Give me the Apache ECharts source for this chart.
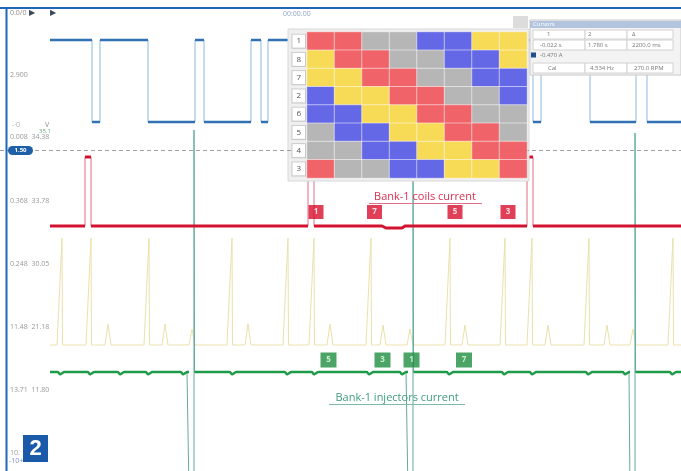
<!DOCTYPE html>
<html><head><meta charset="utf-8">
<script src="https://cdn.jsdelivr.net/npm/echarts@6/dist/echarts.min.js"></script>
<style>html,body{margin:0;padding:0;background:#fff}#c{width:681px;height:471px}</style>
</head><body><div id="c"></div>
<script>
// ---------- DATA (time in ms) ----------
// Channel A: camshaft sensor, volts
const camSignal = [[5.0,5],[9.2,5],[9.2,0],[10.0,0],[10.0,5],[14.8,5],[14.8,0],[19.5,0],[19.5,5],[20.4,5],[20.4,0],[25.1,0],[25.1,5],[26.1,5],[26.1,0],[26.8,0],[26.8,5],[36.3,5],[36.3,0],[41.8,0],[41.8,5],[42.7,5],[42.7,0],[47.3,0],[47.3,5],[53.3,5],[53.3,0],[54.1,0],[54.1,5],[59.0,5],[59.0,0],[63.6,0],[63.6,5],[64.7,5],[64.7,0],[68.1,0]];
// Channel B: bank-1 coils current, amps
const coilCurrent = [[5.0,0],[8.5,0],[8.5,6.9],[9.1,6.9],[9.1,0],[30.8,0],[30.8,6.9],[31.4,6.9],[31.4,0],[38.2,0],[38.6,-0.2],[40.2,-0.2],[40.5,0],[52.7,0],[52.7,6.9],[53.3,6.9],[53.3,0],[68.1,0]];
// Channel C: ignition spikes, kV
const ignTallT  = [6.2, 9.1, 14.9, 23.2, 28.8, 31.4, 37.1, 45.0, 50.5, 53.2, 58.9, 67.3];
const ignTallKV = [10.7,10.7,10.7,10.7,10.7,10.7,10.7,10.7,10.7,10.7,10.7,10.7];
const ignSmallT  = [10.8, 16.5, 19.2, 24.8, 33.0, 38.3, 41.0, 46.5, 54.8, 60.7, 63.3];
const ignSmallKV = [2.1, 2.1, 1.6, 2.1, 2.1, 2.0, 1.6, 2.0, 2.0, 2.0, 1.6];
// Channel D: bank-1 injectors current
const injDips = [6.0, 9.0, 12.0, 14.8, 18.3, 23.2, 28.7, 31.4, 36.9, 40.2, 44.9, 50.4, 53.2, 58.8, 62.5, 67.2];
const injOffT = [18.9, 40.8, 63.0];
const injReturnT = [19.4, 41.3, 63.5];
const injPeak = [24.2, 24.2, 23.9];
// markers
const coilMarkT = [31.6, 37.45, 45.5, 50.8];
const coilMarkLabel = ['1','7','5','3'];
const injMarkT = [32.85, 38.25, 41.15, 46.4];
const injMarkLabel = ['5','3','1','7'];
// firing-order table
const rowLabels = ['1','8','7','2','6','5','4','3'];
const firingPattern = ['RRGGBBYY','YRRGGBBY','YYRRGGBB','BYYRRGGB','BBYYRRGG','GBBYYRRG','GGBBYYRR','RGGBBYYR'];
const strokeColors = {R:'#f05a60', G:'#b3b3b3', B:'#5b5fe6', Y:'#f8d94c'};
// scale labels at left
const scaleLabels = [['2.900',75],['0.008  34.38',137],['0.368  33.78',201],['0.248  30.05',264],['11.48  21.18',327],['13.71  11.80',390],['10.',453]];

// ---------- helpers ----------
const W = 681, H = 471;
function axisRange(p0, ppu){ return {min: -(H - p0)/ppu, max: p0/ppu}; }
function thickSegments(pts){
  const out = []; let prevEnd = -1;
  for (let i = 0; i < pts.length - 1; i++) {
    const a = pts[i], b = pts[i+1];
    if (a[0] !== b[0] && Math.abs(a[1]-b[1]) < 1) {
      if (prevEnd !== i) { if (out.length) out.push([a[0],'-']); out.push(a); }
      out.push(b); prevEnd = i + 1;
    }
  }
  return out;
}
function buildIgn(){
  const ev = ignTallT.map((t,i)=>({t,h:ignTallKV[i],tall:true}))
    .concat(ignSmallT.map((t,i)=>({t,h:ignSmallKV[i],tall:false})))
    .sort((a,b)=>a.t-b.t);
  const p = [[5.0,0]];
  ev.forEach(e=>{
    if (e.tall) p.push([e.t-0.5,0],[e.t,e.h],[e.t+0.05,0]);
    else p.push([e.t-0.3,0],[e.t,e.h],[e.t+0.3,0]);
  });
  p.push([68.1,0]);
  return p;
}
function buildInj(){
  const ev = injDips.map(t=>({t,type:'dip'}))
    .concat(injOffT.map((t,i)=>({t,type:'spike',r:injReturnT[i],pk:injPeak[i]})))
    .sort((a,b)=>a.t-b.t);
  const p = [[5.0,0]];
  ev.forEach(e=>{
    if (e.type==='dip') p.push([e.t-0.2,0],[e.t,-0.25],[e.t+0.4,0]);
    else p.push([e.t,0],[e.t,-12],[e.r,-12],[e.r,e.pk],[e.r+0.05,0]);
  });
  p.push([68.1,0]);
  return p;
}
const ignData = buildIgn();
const injData = buildInj();
const codeIdx = {R:0,G:1,B:2,Y:3};
const heatData = [];
firingPattern.forEach((row,r)=>{ row.split('').forEach((ch,c)=>heatData.push([c,r,codeIdx[ch]])); });

const rA = axisRange(122, 16.4), rB = axisRange(226, 10), rC = axisRange(345, 10), rD = axisRange(372, 10);
const FONT = '"Open Sans", "Noto Sans", sans-serif';

// ---------- graphics ----------
const g = [];
g.push({type:'rect', shape:{x:0,y:7,width:W,height:2}, style:{fill:'#2166b8'}, z:20});
g.push({type:'rect', shape:{x:5.5,y:7,width:2,height:H}, style:{fill:'#2166b8'}, z:20});
g.push({type:'text', x:10, y:13, style:{text:'0.0/0', fill:'#8a8a8a', font:'7px '+FONT, textVerticalAlign:'middle'}, z:20});
g.push({type:'text', x:29, y:13, style:{text:'▶', fill:'#3a4a5a', font:'8px '+FONT, textVerticalAlign:'middle'}, z:20});
g.push({type:'text', x:50, y:13, style:{text:'▶', fill:'#3a4a5a', font:'8px '+FONT, textVerticalAlign:'middle'}, z:20});
g.push({type:'text', x:283, y:14, style:{text:'00:00.00', fill:'#8fa5c4', font:'7px '+FONT, textVerticalAlign:'middle'}, z:20});
scaleLabels.forEach(([t,y])=>g.push({type:'text', x:10, y:y, style:{text:t, fill:'#999999', font:'7px '+FONT, textVerticalAlign:'middle'}, z:4}));
g.push({type:'text', x:12, y:125, style:{text:'-·0', fill:'#b0b0b0', font:'7px '+FONT, textVerticalAlign:'middle'}, z:4});
g.push({type:'text', x:45, y:125, style:{text:'V', fill:'#8c8c8c', font:'7px '+FONT, textVerticalAlign:'middle'}, z:4});
g.push({type:'text', x:39, y:131, style:{text:'35.1', fill:'#6fae7e', font:'6px '+FONT, textVerticalAlign:'middle'}, z:4});
g.push({type:'text', x:9, y:461, style:{text:'-10+', fill:'#7a92c0', font:'7px '+FONT, textVerticalAlign:'middle'}, z:4});
g.push({type:'rect', shape:{x:8,y:146,width:25,height:9,r:4.5}, style:{fill:'#1f5fa8'}, z:6});
g.push({type:'text', x:20.5, y:150.5, style:{text:'1.50', fill:'#ffffff', font:'bold 6px '+FONT, textAlign:'center', textVerticalAlign:'middle'}, z:7});
g.push({type:'rect', shape:{x:288,y:29,width:241,height:152}, style:{fill:'#efefef', stroke:'#d8d8d8', lineWidth:1}, z:5});
g.push({type:'rect', shape:{x:513,y:16,width:15,height:12}, style:{fill:'#dcdcdc'}, z:5});
g.push({type:'rect', shape:{x:530,y:20,width:151,height:55}, style:{fill:'#f3f3f3', stroke:'#c9c9c9', lineWidth:1}, z:8});
g.push({type:'rect', shape:{x:530,y:21,width:151,height:7}, style:{fill:'#b3c5de'}, z:8});
g.push({type:'text', x:533, y:24.5, style:{text:'Cursors', fill:'#ffffff', font:'6px '+FONT, textVerticalAlign:'middle'}, z:9});
[[533,52],[585,42],[627,46]].forEach(([x,w])=>{
  g.push({type:'rect', shape:{x:x,y:30,width:w,height:9}, style:{fill:'#ffffff', stroke:'#d2d2d2', lineWidth:1}, z:8});
  g.push({type:'rect', shape:{x:x,y:40,width:w,height:10}, style:{fill:'#ffffff', stroke:'#d2d2d2', lineWidth:1}, z:8});
  g.push({type:'rect', shape:{x:x,y:63,width:w,height:10}, style:{fill:'#ffffff', stroke:'#d2d2d2', lineWidth:1}, z:8});
});
[['1',547,34.5],['2',588,34.5],['Δ',632,34.5],['-0.022 s',540,45],['1.780 s',588,45],['2200.0 ms',632,45],['-0.470 A',540,55],['Cal',548,68],['4.534 Hz',590,68],['270.0 RPM',634,68]].forEach(([t,x,y])=>
  g.push({type:'text', x:x, y:y, style:{text:t, fill:'#777777', font:'6px '+FONT, textVerticalAlign:'middle'}, z:9}));
g.push({type:'rect', shape:{x:531,y:52.5,width:5,height:5}, style:{fill:'#1f4f8f'}, z:9});
g.push({type:'text', x:425, y:197, style:{text:'Bank-1 coils current', fill:'#d9304f', font:'11px '+FONT, textAlign:'center', textVerticalAlign:'middle'}, z:10});
g.push({type:'rect', shape:{x:369,y:203,width:113,height:1}, style:{fill:'#e0708a'}, z:10});
g.push({type:'text', x:397, y:398, style:{text:'Bank-1 injectors current', fill:'#3f9c7e', font:'11px '+FONT, textAlign:'center', textVerticalAlign:'middle'}, z:10});
g.push({type:'rect', shape:{x:329,y:404,width:136,height:1}, style:{fill:'#7cbba4'}, z:10});
g.push({type:'rect', shape:{x:23,y:435,width:25,height:27}, style:{fill:'#1b5aa8'}, z:20});
g.push({type:'text', x:35.5, y:449, style:{text:'2', fill:'#ffffff', font:'bold 22px "Liberation Sans", Arial, sans-serif', textAlign:'center', textVerticalAlign:'middle'}, z:21});

const lineBase = {type:'line', xAxisIndex:0, showSymbol:false, symbol:'none', silent:true, animation:false};
const option = {
  animation:false,
  backgroundColor:'#ffffff',
  grid:[{left:0,right:0,top:0,bottom:0},{left:307,top:32,width:220,height:146}],
  xAxis:[
    {type:'value', gridIndex:0, min:0, max:68.1, show:false},
    {type:'category', gridIndex:1, data:['1','2','3','4','5','6','7','8'], show:false}
  ],
  yAxis:[
    {type:'value', gridIndex:0, min:rA.min, max:rA.max, show:false},
    {type:'value', gridIndex:0, min:rB.min, max:rB.max, show:false},
    {type:'value', gridIndex:0, min:rC.min, max:rC.max, show:false},
    {type:'value', gridIndex:0, min:rD.min, max:rD.max, show:false},
    {type:'category', gridIndex:1, data:rowLabels, inverse:true, z:7,
      axisLine:{show:false}, axisTick:{show:false}, splitLine:{show:false},
      axisLabel:{margin:2, fontSize:8, color:'#555', fontFamily:'Open Sans', backgroundColor:'#ffffff', borderColor:'#c8c8c8', borderWidth:1, padding:[3,4,2,4]}}
  ],
  visualMap:{type:'piecewise', show:false, seriesIndex:9, dimension:2,
    pieces:[{value:0,color:strokeColors.R},{value:1,color:strokeColors.G},{value:2,color:strokeColors.B},{value:3,color:strokeColors.Y}]},
  graphic:{elements:g},
  series:[
    Object.assign({}, lineBase, {yAxisIndex:0, data:camSignal, z:2, lineStyle:{width:1, color:'#8dbae2'}}),
    Object.assign({}, lineBase, {yAxisIndex:0, data:thickSegments(camSignal), z:3, lineStyle:{width:2.5, color:'#3272b2'}}),
    Object.assign({}, lineBase, {yAxisIndex:1, data:coilCurrent, z:2, lineStyle:{width:1, color:'#e36d86'},
      markLine:{silent:true, symbol:'none', label:{show:false}, lineStyle:{type:[4,3], color:'#a0a0a0', width:1}, data:[{yAxis:7.6}]}}),
    Object.assign({}, lineBase, {yAxisIndex:1, data:thickSegments(coilCurrent), z:3, lineStyle:{width:3, color:'#d3122f'}}),
    Object.assign({}, lineBase, {yAxisIndex:2, data:ignData, z:2, lineStyle:{width:1, color:'#ebe1ad'}}),
    Object.assign({}, lineBase, {yAxisIndex:3, data:injData, z:2, lineStyle:{width:1, color:'#63ab9d'}}),
    Object.assign({}, lineBase, {yAxisIndex:3, data:thickSegments(injData), z:3, lineStyle:{width:2.5, color:'#1f9a48'}}),
    {type:'scatter', xAxisIndex:0, yAxisIndex:1, z:12, silent:true, symbol:'rect', symbolSize:[15,14],
      itemStyle:{color:'#d7102e'}, data:coilMarkT.map((t,i)=>({value:[t,1.4], name:coilMarkLabel[i]})),
      label:{show:true, position:'inside', formatter:p=>p.name, color:'#fff', fontSize:8, fontWeight:'bold', fontFamily:'Open Sans'}},
    {type:'scatter', xAxisIndex:0, yAxisIndex:3, z:12, silent:true, symbol:'rect', symbolSize:[16,15],
      itemStyle:{color:'#1f8e40'}, data:injMarkT.map((t,i)=>({value:[t,1.2], name:injMarkLabel[i]})),
      label:{show:true, position:'inside', formatter:p=>p.name, color:'#e8ffe8', fontSize:8, fontWeight:'bold', fontFamily:'Open Sans'}},
    {type:'heatmap', xAxisIndex:1, yAxisIndex:4, z:6, silent:true, data:heatData,
      itemStyle:{borderColor:'rgba(255,255,255,0.55)', borderWidth:1, opacity:0.94}, label:{show:false}}
  ]
};
const chart = echarts.init(document.getElementById('c'), null, {renderer:'canvas'});
chart.setOption(option);
</script>
</body></html>
